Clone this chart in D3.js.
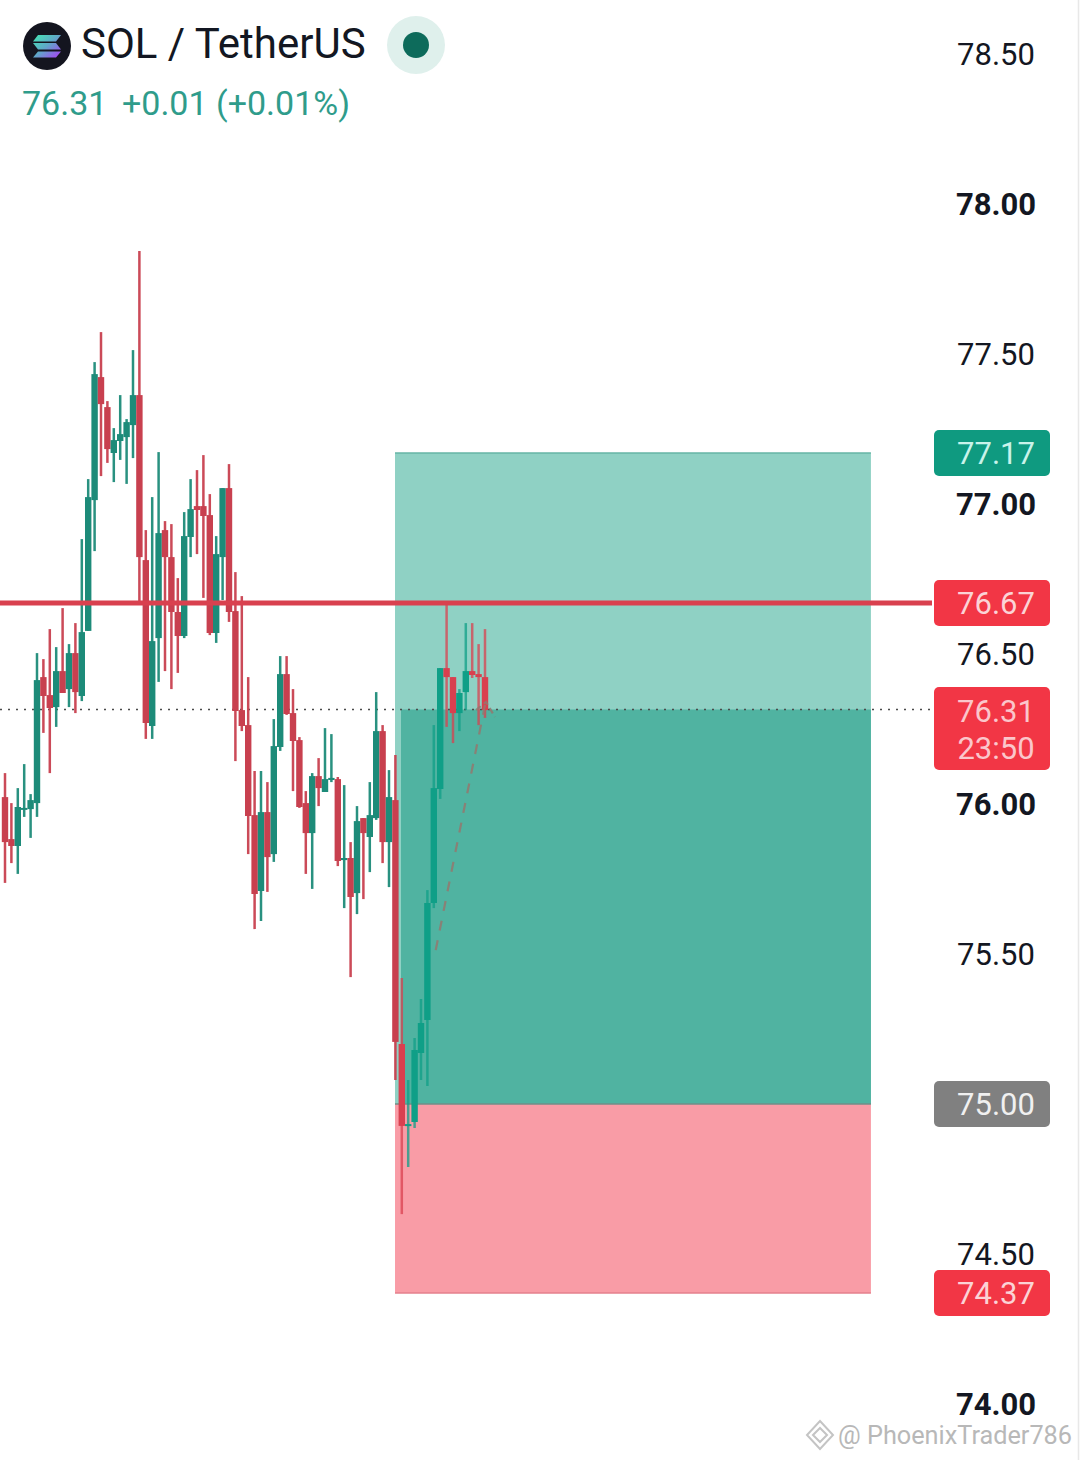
<!DOCTYPE html>
<html>
<head>
<meta charset="utf-8">
<script src="https://cdn.jsdelivr.net/npm/d3@7"></script>
<style>
  html, body { margin: 0; padding: 0; background: #fff; }
  svg { display: block; font-family: Roboto, sans-serif; }
</style>
</head>
<body>
<svg id="chart" width="1080" height="1460"></svg>
<script>
const opens = [76.023,75.883,75.86,75.983,75.983,76.003,76.423,76.363,76.323,76.443,76.383,76.503,76.36,76.577,77.013,77.423,77.323,77.17,77.21,77.223,77.263,77.363,76.813,76.26,76.553,76.913,76.823,76.64,76.56,76.89,76.993,76.993,76.963,76.57,76.823,77.053,76.643,76.313,76.263,75.963,75.71,75.973,75.833,76.19,76.433,76.303,76.213,76.003,75.903,76.093,76.04,76.08,76.083,75.813,75.82,75.703,75.953,75.89,75.953,76.243,75.873,76.013,75.2,74.927,74.94,75.17,75.28,75.67,76.05,76.453,76.423,76.303,76.373,76.443,76.433,76.423];
const highs = [76.103,76.003,76.053,76.133,76.033,76.503,76.483,76.583,76.523,76.653,76.533,76.603,76.883,77.083,77.473,77.573,77.343,77.253,77.363,77.283,77.513,77.843,76.913,77.023,77.173,76.943,76.933,76.753,76.973,77.083,77.113,77.163,77.033,76.893,77.053,77.133,76.773,76.693,76.423,76.11,76.11,76.073,76.283,76.493,76.493,76.383,76.223,76.043,76.103,76.153,76.253,76.233,76.09,76.063,75.873,75.993,75.953,76.073,76.373,76.263,76.113,76.163,75.42,75.08,75.22,75.35,75.713,76.263,76.453,76.67,76.423,76.383,76.603,76.603,76.533,76.583];
const lows = [75.737,75.803,75.767,75.957,75.887,75.957,76.237,76.103,76.257,76.37,76.323,76.303,76.343,76.577,76.843,77.093,77.137,77.073,77.147,77.067,77.153,76.673,76.217,76.217,76.407,76.443,76.383,76.437,76.553,76.823,76.833,76.687,76.563,76.537,76.68,76.607,76.143,76.243,75.833,75.583,75.61,75.707,75.807,76.177,76.297,76.043,75.987,75.767,75.717,75.993,76.04,76.073,75.793,75.653,75.423,75.633,75.683,75.773,75.947,75.803,75.723,75.08,74.633,74.79,74.92,75.08,75.06,75.653,76.017,76.257,76.203,76.243,76.313,76.42,76.263,76.287];
const closes = [75.873,75.86,75.99,75.987,76.013,76.413,76.36,76.32,76.443,76.37,76.503,76.373,76.573,77.023,77.433,77.333,77.183,77.213,77.233,77.273,77.363,76.823,76.27,76.543,76.903,76.823,76.64,76.56,76.893,76.983,76.98,76.96,76.57,76.833,77.053,76.64,76.31,76.26,75.96,75.7,75.973,75.823,76.193,76.433,76.3,76.21,75.99,75.903,76.093,76.053,76.083,76.087,75.81,75.82,75.69,75.943,75.903,75.963,76.243,75.873,76.023,75.207,74.927,74.933,75.18,75.27,75.67,76.053,76.453,76.423,76.303,76.37,76.443,76.43,76.423,76.313];

const priceTicks = [78.5,78,77.5,77,76.5,76,75.5,75,74.5,74];

const targetPrice = 77.17;
const entryPrice = 75;
const stopPrice = 74.37;
const lastPrice = 76.315;
const resistance = 76.67;
const positionBars = [60.94, 135.3];
const filledFromBar = 61.875;
const arrowFrom = [67.3, 75.513];
const arrowTo = [75, 76.33];

const priceTags = [
  { lines: ["77.17"], price: 77.17, fill: "#0f9a80", text: "#c9f3ea" },
  { lines: ["76.67"], price: 76.67, fill: "#f23645", text: "#fbd3d6" },
  { lines: ["76.31", "23:50"], price: 76.31, fill: "#f23645", text: "#fbc6cb" },
  { lines: ["75.00"], price: 75, fill: "#808080", text: "#f0f0f0" },
  { lines: ["74.37"], price: 74.37, fill: "#f23645", text: "#fbd3d6" }
];

const candles = opens.map((o, i) => ({ i, o, h: highs[i], l: lows[i], c: closes[i] }));

const x = d3.scaleLinear().domain([0, 75]).range([5, 485]);
const y = d3.scaleLinear().domain([78, 74]).range([204, 1404]);

const svg = d3.select("#chart");
svg.append("rect").attr("width", 1080).attr("height", 1460).attr("fill", "#fff");

const defs = svg.append("defs");
const solGrad = defs.append("linearGradient").attr("id", "solGrad")
  .attr("gradientUnits", "userSpaceOnUse")
  .attr("x1", 36).attr("y1", 35).attr("x2", 56).attr("y2", 58);
solGrad.append("stop").attr("offset", 0).attr("stop-color", "#46e0b4");
solGrad.append("stop").attr("offset", 0.5).attr("stop-color", "#5fa8c8");
solGrad.append("stop").attr("offset", 1).attr("stop-color", "#a04cf0");

// position tool
const bandL = x(positionBars[0]), bandR = x(positionBars[1]);
const band = svg.append("g");
band.append("rect")
  .attr("x", bandL).attr("y", y(targetPrice))
  .attr("width", bandR - bandL).attr("height", y(entryPrice) - y(targetPrice))
  .attr("fill", "#8fd1c4");
band.append("rect")
  .attr("x", x(filledFromBar)).attr("y", y(lastPrice))
  .attr("width", bandR - x(filledFromBar)).attr("height", y(entryPrice) - y(lastPrice))
  .attr("fill", "#50b3a1");
band.append("rect")
  .attr("x", bandL).attr("y", y(entryPrice))
  .attr("width", bandR - bandL).attr("height", y(stopPrice) - y(entryPrice))
  .attr("fill", "#f99ca6");
band.append("line")
  .attr("x1", bandL).attr("x2", bandR).attr("y1", y(targetPrice)).attr("y2", y(targetPrice))
  .attr("stroke", "#66b5a6").attr("stroke-width", 1.5);
band.append("line")
  .attr("x1", bandL).attr("x2", bandR).attr("y1", y(entryPrice)).attr("y2", y(entryPrice))
  .attr("stroke", "#6f8f88").attr("stroke-width", 1.5);
band.append("line")
  .attr("x1", bandL).attr("x2", bandR).attr("y1", y(stopPrice)).attr("y2", y(stopPrice))
  .attr("stroke", "#e5808c").attr("stroke-width", 1.5);

// last price dots
svg.append("line")
  .attr("x1", 0).attr("x2", 932).attr("y1", y(lastPrice)).attr("y2", y(lastPrice))
  .attr("stroke", "#4a4a4a").attr("stroke-width", 1.6).attr("stroke-dasharray", "2 6");

// candles
const bodyColor = d => {
  const inBand = d.i >= 62;
  if (d.c >= d.o) return inBand ? "#0f9f87" : "#1d8b79";
  return inBand ? "#d9404f" : "#c8404f";
};
const candle = svg.append("g").selectAll("g").data(candles).join("g");
candle.append("line")
  .attr("x1", d => x(d.i)).attr("x2", d => x(d.i))
  .attr("y1", d => y(d.h)).attr("y2", d => y(d.l))
  .attr("stroke", bodyColor).attr("stroke-width", 2.5)
  .attr("stroke-opacity", d => d.i >= 62 ? 0.75 : 0.95);
candle.append("rect")
  .attr("x", d => x(d.i) - 3.2).attr("width", 6.4)
  .attr("y", d => y(Math.max(d.o, d.c)))
  .attr("height", d => Math.max(2, Math.abs(y(d.o) - y(d.c))))
  .attr("fill", bodyColor);

// projected path
svg.append("line")
  .attr("x1", x(arrowFrom[0])).attr("y1", y(arrowFrom[1]))
  .attr("x2", x(arrowTo[0])).attr("y2", y(arrowTo[1]))
  .attr("stroke", "#93786f").attr("stroke-opacity", 0.85).attr("stroke-width", 2.2)
  .attr("stroke-dasharray", "10 10");
svg.append("path")
  .attr("d", d3.line()([[x(arrowTo[0]) - 9, y(arrowTo[1]) + 5], [x(arrowTo[0]) + 1, y(arrowTo[1]) - 3], [x(arrowTo[0]) + 10, y(arrowTo[1]) + 12]]))
  .attr("fill", "none")
  .attr("stroke", "#93786f").attr("stroke-opacity", 0.85).attr("stroke-width", 2.2)
  .attr("stroke-dasharray", "6 4");

// horizontal level
svg.append("line")
  .attr("x1", 0).attr("x2", 932).attr("y1", y(resistance)).attr("y2", y(resistance))
  .attr("stroke", "#d9414f").attr("stroke-width", 5);

// price axis
const axis = d3.axisRight(y).tickValues(priceTicks).tickSize(0).tickPadding(0)
  .tickFormat(d3.format(".2f"));
const axisG = svg.append("g").attr("transform", "translate(996,-1)").call(axis);
axisG.select(".domain").remove();
axisG.selectAll("text")
  .attr("x", 0).attr("dy", "0.355em")
  .attr("text-anchor", "middle")
  .attr("font-family", "Roboto, sans-serif")
  .attr("font-size", 31)
  .attr("font-weight", d => Number.isInteger(d) ? 700 : 400)
  .attr("fill", "#131722");

// price tags
const tag = svg.append("g").selectAll("g").data(priceTags).join("g");
tag.append("rect")
  .attr("x", 934).attr("width", 116).attr("rx", 5)
  .attr("y", d => d.lines.length > 1 ? y(d.price) - 24 : y(d.price) - 23)
  .attr("height", d => d.lines.length > 1 ? 83 : 46)
  .attr("fill", d => d.fill);
tag.each(function(d) {
  d3.select(this).selectAll("text").data(d.lines).join("text")
    .attr("x", 996)
    .attr("y", (t, k) => y(d.price) + 11 + k * 37)
    .attr("text-anchor", "middle")
    .attr("font-size", 31)
    .attr("fill", d.text)
    .text(t => t);
});

// right edge
svg.append("line")
  .attr("x1", 1078.5).attr("x2", 1078.5).attr("y1", 0).attr("y2", 1460)
  .attr("stroke", "#e8e8e8").attr("stroke-width", 1.5);

// header
svg.append("circle").attr("cx", 47).attr("cy", 46).attr("r", 24).attr("fill", "#14151f");
svg.append("g").selectAll("path").data([[35, 6.5, 1], [43, 6.5, -1], [51.5, 6, 1]]).join("path")
  .attr("d", ([top, h, dir]) => {
    const pts = dir > 0
      ? [[38, top], [61, top], [56, top + h], [33, top + h]]
      : [[33, top], [56, top], [61, top + h], [38, top + h]];
    return d3.line()(pts) + "Z";
  })
  .attr("fill", "url(#solGrad)");

svg.append("text").attr("x", 81).attr("y", 58)
  .attr("font-size", 42).attr("fill", "#131722").text("SOL / TetherUS");
svg.append("circle").attr("cx", 416).attr("cy", 45).attr("r", 29).attr("fill", "#dff0ec");
svg.append("circle").attr("cx", 416).attr("cy", 45).attr("r", 13).attr("fill", "#0d6b5b");

svg.append("text").attr("x", 22).attr("y", 115)
  .attr("font-size", 34).attr("fill", "#2f9c8b").text("76.31");
svg.append("text").attr("x", 122).attr("y", 115)
  .attr("font-size", 34).attr("fill", "#2f9c8b").text("+0.01 (+0.01%)");

// watermark
const mark = svg.append("g").attr("fill", "none").attr("stroke", "#c4c4c4").attr("stroke-width", 2);
mark.append("path").attr("d", "M820 1421 L833 1435 L820 1449 L807 1435 Z");
mark.append("path").attr("d", "M813 1435 L820 1428 L827 1435 L820 1442 Z");
svg.append("text").attr("x", 838).attr("y", 1444)
  .attr("font-size", 25).attr("fill", "#b8b8b8")
  .attr("textLength", 234).attr("lengthAdjust", "spacingAndGlyphs").text("@ PhoenixTrader786");
</script>
</body>
</html>
